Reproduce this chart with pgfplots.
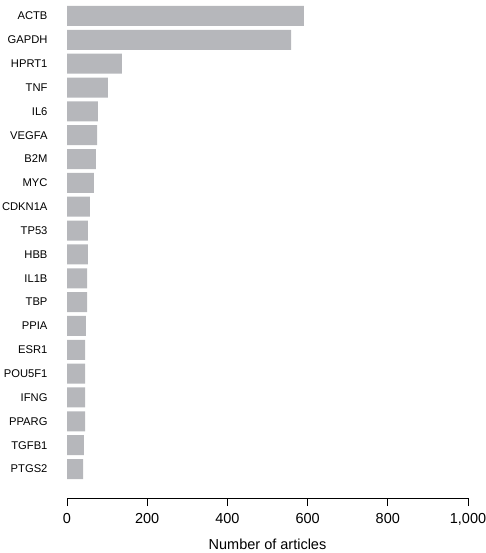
\documentclass[border=0pt]{standalone}
\usepackage{fontspec}
\setmainfont{Liberation Sans}
\usepackage{pgfplots}
\pgfplotsset{compat=1.18}
\definecolor{barcol}{RGB}{182,183,187}
\begin{document}
\begin{tikzpicture}
\begin{axis}[
  at={(67pt,55pt)}, anchor=south west,
  width=401pt, height=498pt, scale only axis,
  xbar, bar width=20pt,
  xmin=0, xmax=1000,
  ymin=-0.671, ymax=20.216,
  y dir=reverse,
  axis x line*=bottom,
  axis y line*=left,
  y axis line style={draw=none},
  ytick={0,...,19},
  yticklabels={ACTB,GAPDH,HPRT1,TNF,IL6,VEGFA,B2M,MYC,CDKN1A,TP53,HBB,IL1B,TBP,PPIA,ESR1,POU5F1,IFNG,PPARG,TGFB1,PTGS2},
  ytick style={draw=none},
  yticklabel style={font=\fontsize{11.2}{13}\selectfont, xshift=-8pt},
  xtick={0,200,400,600,800,1000},
  xtick pos=bottom,
  x tick style={black, line width=0.8pt},
  x axis line style={black, line width=0.8pt},
  tick align=outside,
  major tick length=8pt,
  xticklabel style={font=\fontsize{14.5}{17}\selectfont, yshift=-4pt},
  /pgf/number format/assume math mode=true,
  /pgf/number format/1000 sep={,},
  xlabel={Number of articles},
  xlabel style={font=\fontsize{14.5}{17}\selectfont, yshift=-7pt},
  clip=false,
]
\addplot[fill=barcol, draw=none] coordinates {
(591,0) (559,1) (137,2) (102,3) (77,4) (75,5) (72,6) (67,7) (57,8) (52,9)
(52,10) (50,11) (50,12) (47,13) (45,14) (45,15) (45,16) (45,17) (42,18) (40,19)
};
\end{axis}
\pgfresetboundingbox
\path[use as bounding box] (0,0) rectangle (486pt,553pt);
\end{tikzpicture}
\end{document}
